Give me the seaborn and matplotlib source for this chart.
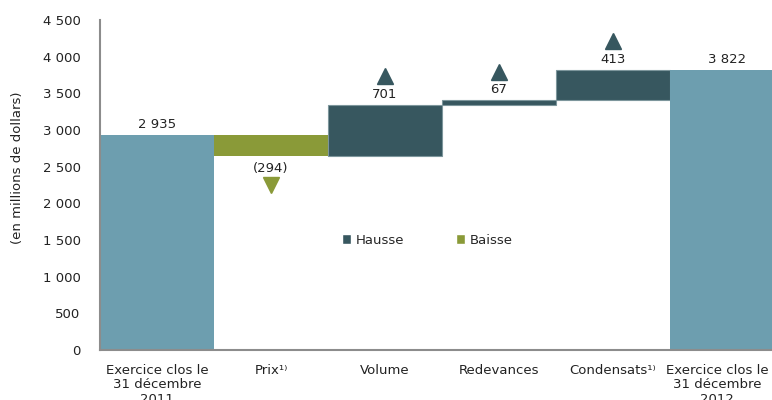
import matplotlib
matplotlib.use("Agg")
import matplotlib.pyplot as plt
import matplotlib.transforms as mtransforms
from matplotlib.patches import Patch
from matplotlib.ticker import FuncFormatter, FixedLocator
import seaborn as sns
import numpy as np
import pandas as pd

categories = ["Exercice clos le\n31 décembre\n2011", "Prix¹⁾", "Volume",
              "Redevances", "Condensats¹⁾", "Exercice clos le\n31 décembre\n2012"]
changes = [2935, -294, 701, 67, 413, 3822]
kinds = ["total", "baisse", "hausse", "hausse", "hausse", "total"]
value_labels = ["2 935", "(294)", "701", "67", "413", "3 822"]
legend_labels = ["Hausse", "Baisse"]

colors = {"total": "#6d9eaf", "hausse": "#37575f", "baisse": "#8a9a38"}

# waterfall geometry from the values
bases, heights = [], []
running = 0
for v, k in zip(changes, kinds):
    if k == "total":
        bases.append(0); heights.append(v); running = v
    elif v >= 0:
        bases.append(running); heights.append(v); running += v
    else:
        bases.append(running + v); heights.append(-v); running += v

df = pd.DataFrame({"cat": categories, "height": heights, "base": bases, "kind": kinds})

sns.set_theme(style="white")
plt.rcParams["font.family"] = ["DejaVu Sans"]
fig = plt.figure(figsize=(7.72, 4.0), dpi=100)
ax = fig.add_axes([100/772, 50/400, 672/772, 330/400])

sns.barplot(data=df, x="cat", y="height", bottom=np.array(bases), order=categories,
            width=1.0, color=colors["total"], linewidth=0, ax=ax, errorbar=None)
for patch, k in zip(ax.patches, kinds):
    patch.set_facecolor(colors[k])
    if k == "hausse":
        patch.set_edgecolor("#7d969c")
        patch.set_linewidth(0.8)
    else:
        patch.set_linewidth(0)

fs = 9.5
txtc = "#222222"
for i, (b, h, k, lab) in enumerate(zip(bases, heights, kinds, value_labels)):
    top = b + h
    if k == "baisse":
        ax.annotate(lab, (i, b), xytext=(0, -9), textcoords="offset points",
                    ha="center", va="center", fontsize=fs, color=txtc)
        ln, = ax.plot([i], [b], marker="v", markersize=11, color=colors[k],
                      linestyle="none", clip_on=False)
        ln.set_transform(ax.transData + mtransforms.ScaledTranslation(0, -21/72, fig.dpi_scale_trans))
    else:
        ax.annotate(lab, (i, top), xytext=(0, 7.5), textcoords="offset points",
                    ha="center", va="center", fontsize=fs, color=txtc)
        if k == "hausse":
            ln, = ax.plot([i], [top], marker="^", markersize=11.5, color=colors[k],
                          linestyle="none", clip_on=False)
            ln.set_transform(ax.transData + mtransforms.ScaledTranslation(0, 20.5/72, fig.dpi_scale_trans))

ax.set_xlim(-0.5, 5.395)
ax.set_ylim(0, 4500)
ax.set_yticks(np.arange(0, 4501, 500))
ax.yaxis.set_major_formatter(FuncFormatter(lambda v, p: f"{int(v):,}".replace(",", " ")))
ax.set_ylabel("(en millions de dollars)", fontsize=fs, color=txtc)
ax.yaxis.set_label_coords(-76/672, (350 - 168) / 330)
ax.set_xlabel("")
ax.set_xticks(range(len(categories)))
ax.set_xticklabels(categories, fontsize=fs, color=txtc, linespacing=1.15)
ax.xaxis.set_minor_locator(FixedLocator(np.arange(-0.5, 5.5, 1)))
ax.tick_params(axis="x", which="major", length=0, pad=10)
ax.tick_params(axis="x", which="minor", length=4, width=1.2, color="#8c8c8c", direction="out")
ax.tick_params(axis="y", length=0, labelsize=fs, labelcolor=txtc, pad=14)
last = ax.get_xticklabels()[-1]
last.set_transform(last.get_transform() + mtransforms.ScaledTranslation(-10/100, 0, fig.dpi_scale_trans))
for side in ["top", "right"]:
    ax.spines[side].set_visible(False)
for side in ["left", "bottom"]:
    ax.spines[side].set_color("#8c8c8c")
    ax.spines[side].set_linewidth(1.5)

handles = [Patch(facecolor=colors["hausse"]), Patch(facecolor=colors["baisse"])]
ax.legend(handles, legend_labels, ncol=2, frameon=False, fontsize=fs,
          loc="center left", bbox_to_anchor=(230/672, 0.333), handlelength=0.7,
          handleheight=0.7, handletextpad=0.35, columnspacing=3.9)

fig.savefig("out.png", dpi=100)
